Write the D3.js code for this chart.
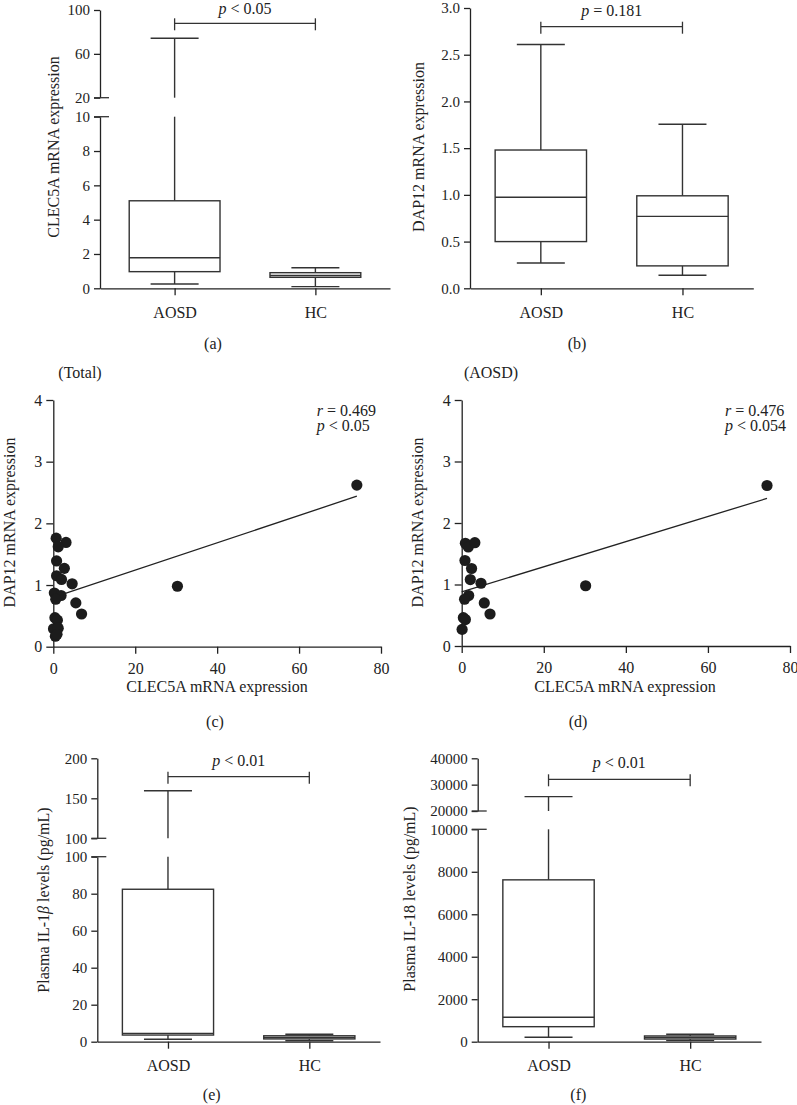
<!DOCTYPE html>
<html>
<head>
<meta charset="utf-8">
<script src="https://cdn.jsdelivr.net/npm/d3@7"></script>
<style>
  body { margin: 0; background: #fff; }
  text { font-family: "Liberation Serif", "Times New Roman", serif; fill: #222; }
</style>
</head>
<body>
<script>
// ---- data ----
const groups = ["AOSD", "HC"];

// box stats per group: [whisker low, Q1, median, Q3, whisker high]
const clec5aBox = [[0.25, 0.97, 1.78, 5.1, 74.2], [0.1, 0.64, 0.75, 0.91, 1.2]];
const dap12Box = [[0.27, 0.50, 0.975, 1.48, 2.61], [0.14, 0.24, 0.77, 0.99, 1.755]];
const il1bBox = [[1.3, 3.6, 4.5, 82.4, 159.5], [0.5, 1.5, 2.3, 3.2, 4.0]];
const il18Box = [[207, 707, 1150, 7620, 25440], [50, 125, 200, 270, 350]];

const clec5aTicksLow = [0, 2, 4, 6, 8, 10];
const clec5aTicksHigh = [20, 60, 100];
const dap12Ticks = [0, 0.5, 1.0, 1.5, 2.0, 2.5, 3.0];
const il1bTicksLow = [0, 20, 40, 60, 80, 100];
const il1bTicksHigh = [100, 150, 200];
const il18TicksLow = [0, 2000, 4000, 6000, 8000, 10000];
const il18TicksHigh = [20000, 30000, 40000];

const pValues = ["< 0.05", "= 0.181", "< 0.01", "< 0.01"];

// scatter: CLEC5A (x) vs DAP12 (y)
const totalClec5a = [74.1, 30.3, 0.7, 3.1, 1.2, 0.8, 2.7, 0.8, 2.0, 4.6, 0.25, 1.9, 0.6, 5.5, 6.9, 0.4, 1.0, 0.05, 1.2, 0.5, 0.9];
const totalDap12  = [2.62, 0.98, 1.76, 1.69, 1.62, 1.39, 1.27, 1.15, 1.09, 1.02, 0.87, 0.83, 0.77, 0.71, 0.53, 0.47, 0.43, 0.29, 0.30, 0.17, 0.20];
const aosdClec5a = [74.4, 30.2, 0.9, 1.6, 3.2, 0.8, 2.4, 2.1, 4.7, 1.7, 0.7, 5.5, 6.9, 0.4, 0.9, 0.1];
const aosdDap12  = [2.61, 0.98, 1.67, 1.61, 1.68, 1.39, 1.26, 1.08, 1.02, 0.82, 0.76, 0.70, 0.52, 0.46, 0.43, 0.27];
// fitted lines as drawn: [x0, y0, x1, y1]
const totalFit = [0, 0.80, 74.1, 2.44];
const aosdFit = [0, 0.88, 74.4, 2.40];
const corrText = [["0.469", "< 0.05"], ["0.476", "< 0.054"]];
const scatterTicksX = [0, 20, 40, 60, 80];
const scatterTicksY = [0, 1, 2, 3, 4];

// ---- drawing ----
const W = 797, H = 1105;
const ink = "#222";
const svg = d3.select("body").append("svg").attr("width", W).attr("height", H);

function styleAxis(g, size) {
  g.attr("font-family", null).attr("font-size", null);
  g.selectAll("path.domain").attr("stroke", ink).attr("stroke-width", 1.3);
  g.selectAll(".tick line").attr("stroke", ink).attr("stroke-width", 1.3);
  g.selectAll(".tick text").style("font-size", size + "px");
}

function line(g, x1, y1, x2, y2, w) {
  g.append("line").attr("x1", x1).attr("y1", y1).attr("x2", x2).attr("y2", y2)
    .attr("stroke", "#333").attr("stroke-width", w || 1.4);
}

function pLabel(g, x, y, rest, anchor) {
  const t = g.append("text").attr("x", x).attr("y", y)
    .attr("text-anchor", anchor || "middle").style("font-size", "16px");
  t.append("tspan").attr("font-style", "italic").text("p");
  t.append("tspan").text(" " + rest);
  return t;
}

function boxPanel(o) {
  const g = svg.append("g");
  const x = d3.scalePoint().domain(groups).range([o.left, o.right]).padding(o.pad);
  const yLow = d3.scaleLinear().domain(o.lowDomain).range([o.base, o.lowTop]);
  const yHigh = o.highDomain ? d3.scaleLinear().domain(o.highDomain).range(o.highRange) : null;

  const ax = g.append("g").attr("transform", `translate(${o.left},0)`)
    .call(d3.axisLeft(yLow).tickValues(o.ticksLow).tickFormat(o.fmt).tickSize(6).tickSizeOuter(0).tickPadding(4));
  styleAxis(ax, 15);
  if (yHigh) {
    const ax2 = g.append("g").attr("transform", `translate(${o.left},0)`)
      .call(d3.axisLeft(yHigh).tickValues(o.ticksHigh).tickFormat(o.fmt).tickSize(6).tickSizeOuter(0).tickPadding(4));
    styleAxis(ax2, 15);
    // break marks at the segment ends
    line(g, o.left - 6, yLow(o.lowDomain[1]), o.left + 9, yLow(o.lowDomain[1]), 1.3);
    line(g, o.left - 6, yHigh(o.highDomain[0]), o.left + 9, yHigh(o.highDomain[0]), 1.3);
  }
  const xa = g.append("g").attr("transform", `translate(0,${o.base})`)
    .call(d3.axisBottom(x).tickSize(7).tickSizeOuter(0).tickPadding(11));
  styleAxis(xa, 16);

  const step = x.step(), bw = step * 0.645, cw = 48;
  o.stats.forEach((s, i) => {
    const cx = x(groups[i]);
    const [wl, q1, md, q3, wh] = s;
    // whiskers first, box on top
    line(g, cx, yLow(q1), cx, yLow(wl));
    line(g, cx - cw / 2, yLow(wl), cx + cw / 2, yLow(wl));
    if (yHigh && wh > o.lowDomain[1]) {
      line(g, cx, yLow(q3), cx, yLow(o.lowDomain[1]));
      line(g, cx, yHigh(o.highDomain[0]), cx, yHigh(wh));
      line(g, cx - cw / 2, yHigh(wh), cx + cw / 2, yHigh(wh));
    } else {
      line(g, cx, yLow(q3), cx, yLow(wh));
      line(g, cx - cw / 2, yLow(wh), cx + cw / 2, yLow(wh));
    }
    g.append("rect").attr("x", cx - bw / 2).attr("y", yLow(q3))
      .attr("width", bw).attr("height", yLow(q1) - yLow(q3))
      .attr("fill", "#fff").attr("stroke", "#333").attr("stroke-width", 1.4);
    line(g, cx - bw / 2, yLow(md), cx + bw / 2, yLow(md));
  });

  // significance bracket
  const xa0 = x(groups[0]), xa1 = x(groups[1]), by = o.bracketY;
  line(g, xa0, by, xa1, by, 1.3);
  line(g, xa0, by - 5, xa0, by + 7, 1.3);
  line(g, xa1, by - 5, xa1, by + 7, 1.3);
  pLabel(g, (xa0 + xa1) / 2, Math.max(by - 11, 14), o.p);

  const yl = g.append("text").attr("transform", `translate(${o.ylabel[0]},${o.ylabel[1]}) rotate(-90)`)
    .attr("text-anchor", "middle").attr("dominant-baseline", "central").style("font-size", "16px");
  o.ylabelParts.forEach(p => yl.append("tspan").attr("font-style", p[1] ? "italic" : null).text(p[0]));

  g.append("text").attr("x", o.caption[0]).attr("y", o.caption[1]).attr("text-anchor", "middle")
    .style("font-size", "16px").text(o.captionText);
}

function scatterPanel(o) {
  const g = svg.append("g");
  const x = d3.scaleLinear().domain([0, 80]).range([o.left, o.right]);
  const y = d3.scaleLinear().domain([0, 4]).range([o.base, o.top]);
  const ya = g.append("g").attr("transform", `translate(${o.left},0)`)
    .call(d3.axisLeft(y).tickValues(scatterTicksY).tickFormat(d3.format("d")).tickSize(7).tickSizeOuter(0).tickPadding(4));
  styleAxis(ya, 16);
  const xa = g.append("g").attr("transform", `translate(0,${o.base})`)
    .call(d3.axisBottom(x).tickValues(scatterTicksX).tickFormat(d3.format("d")).tickSize(7).tickSizeOuter(0).tickPadding(9));
  styleAxis(xa, 16);

  const f = o.fit;
  g.append("line").attr("x1", x(f[0])).attr("y1", y(f[1])).attr("x2", x(f[2])).attr("y2", y(f[3]))
    .attr("stroke", ink).attr("stroke-width", 1.3);

  g.selectAll("circle.pt").data(o.xs).enter().append("circle")
    .attr("class", "pt")
    .attr("cx", d => x(d))
    .attr("cy", (d, i) => y(o.ys[i]))
    .attr("r", 5.6)
    .attr("fill", "#1c1c1c");

  // r and p as one text with two lines
  const t = g.append("text").attr("x", o.corr[0]).attr("y", o.corr[1]).style("font-size", "16px");
  t.append("tspan").attr("font-style", "italic").text("r");
  t.append("tspan").text(" = " + o.corrVals[0]);
  t.append("tspan").attr("x", o.corr[0]).attr("dy", 15).attr("font-style", "italic").text("p");
  t.append("tspan").text(" " + o.corrVals[1]);

  g.append("text").attr("x", o.title[0]).attr("y", o.title[1]).attr("text-anchor", "middle")
    .style("font-size", "16px").text(o.titleText);
  g.append("text").attr("transform", `translate(${o.ylabel[0]},${o.ylabel[1]}) rotate(-90)`)
    .attr("text-anchor", "middle").attr("dominant-baseline", "central").style("font-size", "16px")
    .text("DAP12 mRNA expression");
  g.append("text").attr("x", o.xlabel[0]).attr("y", o.xlabel[1]).attr("text-anchor", "middle")
    .style("font-size", "16px").text("CLEC5A mRNA expression");
  g.append("text").attr("x", o.caption[0]).attr("y", o.caption[1]).attr("text-anchor", "middle")
    .style("font-size", "16px").text(o.captionText);
}

// (a)
boxPanel({
  left: 100, right: 390, pad: 0.53, base: 288.3, lowTop: 116.7,
  lowDomain: [0, 10], highDomain: [20, 100], highRange: [97.7, 10],
  ticksLow: clec5aTicksLow, ticksHigh: clec5aTicksHigh, fmt: d3.format("d"),
  stats: clec5aBox, p: pValues[0], bracketY: 23.3,
  ylabel: [53, 147], ylabelParts: [["CLEC5A mRNA expression", false]],
  caption: [213, 349], captionText: "(a)"
});
// (b)
boxPanel({
  left: 470, right: 753.3, pad: 0.5, base: 288.3, lowTop: 8,
  lowDomain: [0, 3],
  ticksLow: dap12Ticks, fmt: d3.format(".1f"),
  stats: dap12Box, p: pValues[1], bracketY: 26.7,
  ylabel: [418, 147], ylabelParts: [["DAP12 mRNA expression", false]],
  caption: [577, 349], captionText: "(b)"
});
// (c)
scatterPanel({
  left: 53.3, right: 381, base: 646.7, top: 400,
  xs: totalClec5a, ys: totalDap12, fit: totalFit, corr: [316.7, 416], corrVals: corrText[0],
  title: [80, 378], titleText: "(Total)", ylabel: [9, 522.5], xlabel: [217, 692],
  caption: [215, 727], captionText: "(c)"
});
// (d)
scatterPanel({
  left: 461.7, right: 790, base: 646, top: 400,
  xs: aosdClec5a, ys: aosdDap12, fit: aosdFit, corr: [725, 416], corrVals: corrText[1],
  title: [491, 378], titleText: "(AOSD)", ylabel: [417.5, 522.5], xlabel: [625, 692],
  caption: [578, 727], captionText: "(d)"
});
// (e)
boxPanel({
  left: 97.3, right: 380, pad: 0.5, base: 1041.7, lowTop: 856.7,
  lowDomain: [0, 100], highDomain: [100, 200], highRange: [838.3, 758.3],
  ticksLow: il1bTicksLow, ticksHigh: il1bTicksHigh, fmt: d3.format("d"),
  stats: il1bBox, p: pValues[2], bracketY: 776.7,
  ylabel: [43.3, 900], ylabelParts: [["Plasma IL-1", false], ["β", true], [" levels (pg/mL)", false]],
  caption: [211.7, 1100], captionText: "(e)"
});
// (f)
boxPanel({
  left: 477.7, right: 761, pad: 0.5, base: 1041.7, lowTop: 829.3,
  lowDomain: [0, 10000], highDomain: [20000, 40000], highRange: [811, 758.3],
  ticksLow: il18TicksLow, ticksHigh: il18TicksHigh, fmt: d3.format("d"),
  stats: il18Box, p: pValues[3], bracketY: 779.3,
  ylabel: [409, 899], ylabelParts: [["Plasma IL-18 levels (pg/mL)", false]],
  caption: [578.3, 1100], captionText: "(f)"
});
</script>
</body>
</html>
